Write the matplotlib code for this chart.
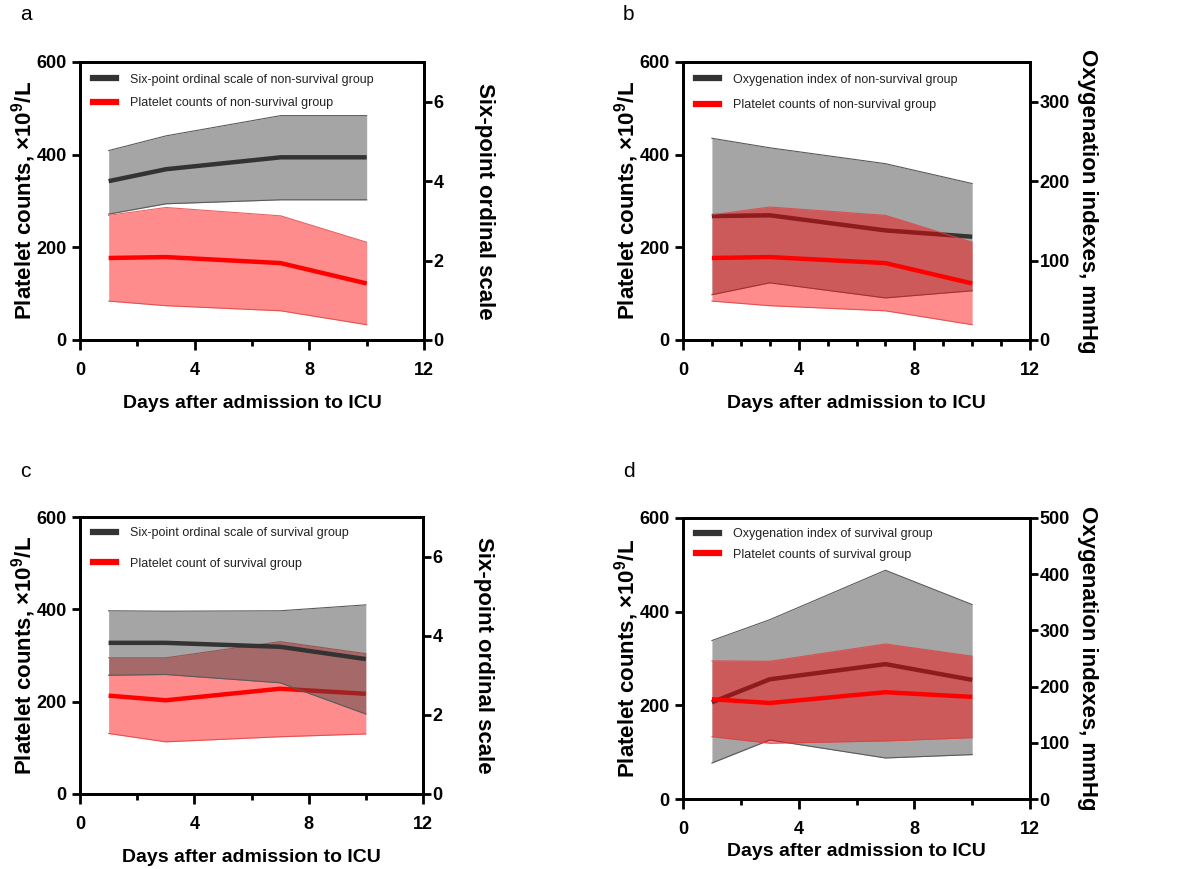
import matplotlib
matplotlib.use("Agg")
import matplotlib.pyplot as plt
from matplotlib.lines import Line2D
from matplotlib.ticker import MultipleLocator, FixedLocator

plt.rcParams['font.family'] = ['Liberation Sans', 'DejaVu Sans']
plt.rcParams['mathtext.fontset'] = 'custom'
plt.rcParams['mathtext.rm'] = 'Liberation Sans'
plt.rcParams['mathtext.bf'] = 'Liberation Sans:bold'

# ---------------- data ----------------
days = [1, 3, 7, 10]

# panel a: non-survival, six-point ordinal scale (right axis) + platelets (left)
a_osc_mean = [4.0, 4.3, 4.6, 4.6]
a_osc_upper = [4.77, 5.14, 5.65, 5.65]
a_osc_lower = [3.17, 3.43, 3.53, 3.53]
a_plt_mean = [177, 179, 166, 122]
a_plt_upper = [269, 286, 268, 211]
a_plt_lower = [84, 74, 63, 33]

# panel b: non-survival, oxygenation index (right axis) + platelets (left)
b_oi_mean = [156, 157, 138, 130]
b_oi_upper = [254, 242, 222, 197]
b_oi_lower = [57, 72, 53, 62]
b_plt_mean = [177, 179, 166, 122]
b_plt_upper = [270, 287, 269, 211]
b_plt_lower = [84, 74, 63, 33]

# panel c: survival, six-point ordinal scale + platelets
c_osc_mean = [3.82, 3.82, 3.72, 3.41]
c_osc_upper = [4.63, 4.62, 4.63, 4.78]
c_osc_lower = [3.0, 3.02, 2.81, 2.02]
c_plt_mean = [213, 203, 228, 217]
c_plt_upper = [295, 295, 330, 304]
c_plt_lower = [131, 113, 124, 130]

# panel d: survival, oxygenation index + platelets
d_oi_mean = [172, 213, 240, 212]
d_oi_upper = [282, 319, 407, 346]
d_oi_lower = [64, 105, 73, 79]
d_plt_mean = [213, 205, 228, 218]
d_plt_upper = [295, 294, 331, 305]
d_plt_lower = [133, 119, 124, 131]

panel_letters = ['a', 'b', 'c', 'd']
x_label = 'Days after admission to ICU'
y_label_left = r'Platelet counts, ×10$^{\mathbf{9}}$/L'
osc_label = 'Six-point ordinal scale'
oi_label = 'Oxygenation indexes, mmHg'
x_ticks = [0, 4, 8, 12]

legend_a = ['Six-point ordinal scale of non-survival group', 'Platelet counts of non-survival group']
legend_b = ['Oxygenation index of non-survival group', 'Platelet counts of non-survival group']
legend_c = ['Six-point ordinal scale of survival group', 'Platelet count of survival group']
legend_d = ['Oxygenation index of survival group', 'Platelet counts of survival group']

# ---------------- style ----------------
GREY_FILL = '#444444'
GREY_ALPHA = 0.48
GREY_EDGE = '#5a5a5a'
BLACK = '#333333'
RED = '#ff0000'
RED_ALPHA = 0.45
LW = 3.2
SPINE_W = 2.0
TICK_SIZE = 13
LEG_SIZE = 9

W, H = 1189, 869
fig = plt.figure(figsize=(W / 100, H / 100), dpi=100)


def box(l, r, t, b):
    return [l / W, 1 - b / H, (r - l) / W, (b - t) / H]


def style_axis(ax, right=False):
    for s in ax.spines.values():
        s.set_linewidth(SPINE_W)
        s.set_color('black')
    ax.tick_params(axis='x', which='major', length=7.5, width=SPINE_W, direction='out', pad=8.5)
    ax.tick_params(axis='x', which='minor', length=4.5, width=SPINE_W, direction='out')
    ax.tick_params(axis='y', which='major', length=6, width=SPINE_W, direction='out',
                   pad=1 if right else 3.5)
    for lab in ax.get_xticklabels() + ax.get_yticklabels():
        lab.set_family(['Liberation Sans', 'DejaVu Sans'])
        lab.set_weight('bold')
        lab.set_size(TICK_SIZE)


def panel(rect, letter, letter_xy, mean_r, up_r, lo_r, mean_p, up_p, lo_p,
          right_lim, right_ticks, right_label, legend_labels, red_on_top,
          minor_x, labelspacing, xlabelpad, right_pad, first_offset):
    ax = fig.add_axes(rect)
    ax2 = ax.twinx()

    # right-axis series (grey band + dark line)
    ax2.fill_between(days, lo_r, up_r, color=GREY_FILL, alpha=GREY_ALPHA, lw=0, zorder=1)
    ax2.plot(days, up_r, color=GREY_EDGE, lw=0.8, zorder=1.5)
    ax2.plot(days, lo_r, color=GREY_EDGE, lw=0.8, zorder=1.5)
    ax2.plot(days, mean_r, color=BLACK, lw=LW, solid_capstyle='butt', zorder=2)

    # left-axis series (red band + red line)
    ax.fill_between(days, lo_p, up_p, color=RED, alpha=RED_ALPHA, lw=0, zorder=1)
    ax.plot(days, up_p, color='#e04040', lw=0.8, alpha=0.8, zorder=1.5)
    ax.plot(days, lo_p, color='#e04040', lw=0.8, alpha=0.8, zorder=1.5)
    ax.plot(days, mean_p, color=RED, lw=LW, solid_capstyle='butt', zorder=2)

    if red_on_top:
        ax.set_zorder(ax2.get_zorder() + 1)
        ax.patch.set_visible(False)
        top = ax
    else:
        top = ax2

    ax.set_xlim(0, 12)
    ax.set_ylim(0, 600)
    ax.xaxis.set_major_locator(FixedLocator(x_ticks))
    ax.xaxis.set_minor_locator(FixedLocator(minor_x))
    ax.yaxis.set_major_locator(MultipleLocator(200))
    ax2.set_ylim(*right_lim)
    ax2.yaxis.set_major_locator(FixedLocator(right_ticks))

    style_axis(ax)
    style_axis(ax2, right=True)

    ax.set_xlabel(x_label, fontsize=14, fontweight='bold', labelpad=xlabelpad)
    ax.set_ylabel(y_label_left, fontsize=16, fontweight='bold', labelpad=-1)
    ax2.set_ylabel(right_label, fontsize=16, fontweight='bold', rotation=270,
                   labelpad=right_pad)

    handles = [Line2D([], [], color=BLACK, lw=4.5),
               Line2D([], [], color=RED, lw=4.5)]
    leg = top.legend(handles, legend_labels, loc='upper left',
                     bbox_to_anchor=(0.015, first_offset), frameon=False,
                     fontsize=LEG_SIZE, handlelength=1.85, handletextpad=1.1,
                     labelspacing=labelspacing, borderaxespad=0.2)
    for t in leg.get_texts():
        t.set_color('#222222')

    fig.text(letter_xy[0] / W, 1 - letter_xy[1] / H, letter, fontsize=15,
             family=['Liberation Sans', 'DejaVu Sans'], ha='left', va='center')
    return ax, ax2


panel(box(80, 424, 62, 340), 'a', (20, 15),
      a_osc_mean, a_osc_upper, a_osc_lower, a_plt_mean, a_plt_upper, a_plt_lower,
      (0, 7), [0, 2, 4, 6], osc_label, legend_a, True, [2, 6, 10], 0.92, 11.5, 37, 0.985)

panel(box(683, 1030, 62, 340), 'b', (623, 15),
      b_oi_mean, b_oi_upper, b_oi_lower, b_plt_mean, b_plt_upper, b_plt_lower,
      (0, 350), [0, 100, 200, 300], oi_label, legend_b, True,
      [1, 2, 3, 5, 6, 7, 9, 10, 11], 1.08, 11.5, 20, 0.985)

panel(box(80, 423, 517, 794), 'c', (20, 472),
      c_osc_mean, c_osc_upper, c_osc_lower, c_plt_mean, c_plt_upper, c_plt_lower,
      (0, 7), [0, 2, 4, 6], osc_label, legend_c, False, [2, 6, 10], 1.48, 11.5, 37, 0.99)

panel(box(683, 1030, 518, 799), 'd', (623, 472),
      d_oi_mean, d_oi_upper, d_oi_lower, d_plt_mean, d_plt_upper, d_plt_lower,
      (0, 500), [0, 100, 200, 300, 400, 500], oi_label, legend_d, True,
      [2, 6, 10], 0.68, 3.5, 20, 0.99)

fig.savefig('out.png', dpi=100)
